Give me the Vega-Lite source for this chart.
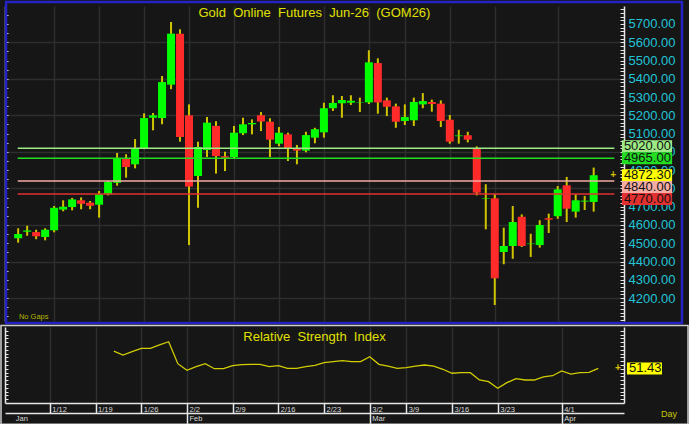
{
  "$schema": "https://vega.github.io/schema/vega-lite/v6.json",
  "background": "#161616",
  "padding": 0,
  "spacing": 6,
  "bounds": "flush",
  "config": {"view": {"stroke": null}, "font": "Liberation Sans", "text": {"font": "Liberation Sans"}, "axis": {"labelFont": "Liberation Sans"}},
  "datasets": {
    "candles": [
      {"i":0,"d":"1/6","o":4527,"h":4582,"l":4503,"c":4551},
      {"i":1,"d":"1/7","o":4563,"h":4596,"l":4541,"c":4570},
      {"i":2,"d":"1/8","o":4561,"h":4574,"l":4522,"c":4538},
      {"i":3,"d":"1/9","o":4534,"h":4582,"l":4516,"c":4574},
      {"i":4,"d":"1/12","o":4571,"h":4704,"l":4560,"c":4694},
      {"i":5,"d":"1/13","o":4684,"h":4735,"l":4675,"c":4700},
      {"i":6,"d":"1/14","o":4698,"h":4748,"l":4680,"c":4740},
      {"i":7,"d":"1/15","o":4735,"h":4751,"l":4686,"c":4716},
      {"i":8,"d":"1/16","o":4722,"h":4731,"l":4686,"c":4705},
      {"i":9,"d":"1/19","o":4711,"h":4786,"l":4640,"c":4768},
      {"i":10,"d":"1/20","o":4768,"h":4841,"l":4762,"c":4835},
      {"i":11,"d":"1/21","o":4831,"h":4994,"l":4815,"c":4965},
      {"i":12,"d":"1/22","o":4965,"h":4987,"l":4859,"c":4917},
      {"i":13,"d":"1/23","o":4932,"h":5070,"l":4910,"c":5020},
      {"i":14,"d":"1/26","o":5020,"h":5211,"l":5015,"c":5185},
      {"i":15,"d":"1/27","o":5187,"h":5213,"l":5118,"c":5200},
      {"i":16,"d":"1/28","o":5185,"h":5415,"l":5151,"c":5382},
      {"i":17,"d":"1/29","o":5368,"h":5711,"l":5343,"c":5647},
      {"i":18,"d":"1/30","o":5647,"h":5671,"l":5056,"c":5081},
      {"i":19,"d":"2/2","o":5200,"h":5260,"l":4490,"c":4810},
      {"i":20,"d":"2/3","o":4868,"h":5056,"l":4694,"c":5027},
      {"i":21,"d":"2/4","o":5010,"h":5191,"l":4972,"c":5160},
      {"i":22,"d":"2/5","o":5142,"h":5168,"l":4881,"c":4977},
      {"i":23,"d":"2/6","o":4976,"h":5001,"l":4895,"c":4968},
      {"i":24,"d":"2/9","o":4972,"h":5142,"l":4965,"c":5105},
      {"i":25,"d":"2/10","o":5102,"h":5187,"l":5092,"c":5151},
      {"i":26,"d":"2/11","o":5151,"h":5178,"l":5096,"c":5158},
      {"i":27,"d":"2/12","o":5200,"h":5218,"l":5114,"c":5167},
      {"i":28,"d":"2/13","o":5165,"h":5184,"l":4972,"c":5067},
      {"i":29,"d":"2/16","o":5045,"h":5136,"l":5031,"c":5105},
      {"i":30,"d":"2/17","o":5096,"h":5105,"l":4950,"c":5020},
      {"i":31,"d":"2/18","o":5016,"h":5038,"l":4932,"c":5007},
      {"i":32,"d":"2/19","o":5007,"h":5110,"l":4998,"c":5092},
      {"i":33,"d":"2/20","o":5078,"h":5132,"l":5047,"c":5124},
      {"i":34,"d":"2/23","o":5107,"h":5269,"l":5078,"c":5239},
      {"i":35,"d":"2/24","o":5239,"h":5310,"l":5224,"c":5268},
      {"i":36,"d":"2/25","o":5266,"h":5306,"l":5187,"c":5284},
      {"i":37,"d":"2/26","o":5269,"h":5310,"l":5257,"c":5280},
      {"i":38,"d":"2/27","o":5271,"h":5297,"l":5218,"c":5273},
      {"i":39,"d":"3/2","o":5271,"h":5556,"l":5262,"c":5490},
      {"i":40,"d":"3/3","o":5486,"h":5512,"l":5209,"c":5271},
      {"i":41,"d":"3/4","o":5282,"h":5297,"l":5196,"c":5247},
      {"i":42,"d":"3/5","o":5249,"h":5264,"l":5132,"c":5165},
      {"i":43,"d":"3/9","o":5169,"h":5260,"l":5147,"c":5191},
      {"i":44,"d":"3/10","o":5173,"h":5297,"l":5142,"c":5273},
      {"i":45,"d":"3/11","o":5260,"h":5322,"l":5239,"c":5278},
      {"i":46,"d":"3/12","o":5273,"h":5286,"l":5220,"c":5262},
      {"i":47,"d":"3/13","o":5264,"h":5282,"l":5136,"c":5169},
      {"i":48,"d":"3/16","o":5176,"h":5202,"l":5045,"c":5056},
      {"i":49,"d":"3/17","o":5086,"h":5121,"l":5045,"c":5090},
      {"i":50,"d":"3/18","o":5091,"h":5110,"l":5052,"c":5067},
      {"i":51,"d":"3/19","o":5017,"h":5030,"l":4762,"c":4777},
      {"i":52,"d":"3/20","o":4743,"h":4823,"l":4576,"c":4746},
      {"i":53,"d":"3/23","o":4746,"h":4768,"l":4162,"c":4308},
      {"i":54,"d":"3/24","o":4452,"h":4585,"l":4385,"c":4485},
      {"i":55,"d":"3/25","o":4485,"h":4704,"l":4415,"c":4616},
      {"i":56,"d":"3/26","o":4645,"h":4658,"l":4480,"c":4485},
      {"i":57,"d":"3/27","o":4495,"h":4552,"l":4425,"c":4498},
      {"i":58,"d":"3/30","o":4490,"h":4626,"l":4476,"c":4600},
      {"i":59,"d":"3/31","o":4637,"h":4662,"l":4556,"c":4629},
      {"i":60,"d":"4/1","o":4648,"h":4813,"l":4634,"c":4795},
      {"i":61,"d":"4/2","o":4817,"h":4863,"l":4616,"c":4689},
      {"i":62,"d":"4/3","o":4673,"h":4768,"l":4640,"c":4735},
      {"i":63,"d":"4/6","o":4728,"h":4759,"l":4682,"c":4733},
      {"i":64,"d":"4/7","o":4726,"h":4914,"l":4673,"c":4872.3}
    ],
    "rsi": [
      {"i":11,"v":69.7},{"i":12,"v":65.5},{"i":13,"v":69.0},{"i":14,"v":72.6},{"i":15,"v":72.6},
      {"i":16,"v":76.1},{"i":17,"v":79.5},{"i":18,"v":56.4},{"i":19,"v":49.4},{"i":20,"v":53.2},
      {"i":21,"v":56.4},{"i":22,"v":51.1},{"i":23,"v":51.1},{"i":24,"v":54.3},{"i":25,"v":55.3},
      {"i":26,"v":55.7},{"i":27,"v":55.7},{"i":28,"v":53.2},{"i":29,"v":54.3},{"i":30,"v":51.5},
      {"i":31,"v":51.5},{"i":32,"v":53.2},{"i":33,"v":54.7},{"i":34,"v":57.4},{"i":35,"v":58.5},
      {"i":36,"v":59.5},{"i":37,"v":58.5},{"i":38,"v":58.5},{"i":39,"v":63.7},{"i":40,"v":55.7},
      {"i":41,"v":53.9},{"i":42,"v":51.5},{"i":43,"v":52.2},{"i":44,"v":53.9},{"i":45,"v":55.0},
      {"i":46,"v":53.9},{"i":47,"v":50.5},{"i":48,"v":46.3},{"i":49,"v":46.9},{"i":50,"v":46.9},
      {"i":51,"v":39.2},{"i":52,"v":37.4},{"i":53,"v":30.5},{"i":54,"v":36.4},{"i":55,"v":40.6},
      {"i":56,"v":39.2},{"i":57,"v":39.2},{"i":58,"v":42.4},{"i":59,"v":43.7},{"i":60,"v":48.7},
      {"i":61,"v":45.5},{"i":62,"v":46.9},{"i":63,"v":47.3},{"i":64,"v":51.43}
    ],
    "levels": [
      {"price":5020,"label":"5020.00"},
      {"price":4965,"label":"4965.00"},
      {"price":4872.3,"label":"4872.30"},
      {"price":4840,"label":"4840.00"},
      {"price":4770,"label":"4770.00"}
    ]
  },
  "vconcat": [
    {
      "width": 619,
      "height": 315,
      "resolve": {"axis": {"y": "independent"}},
      "layer": [
        {
          "data": {"values": [{}]},
          "mark": {"type": "rect", "filled": false, "stroke": "#2323c4", "strokeWidth": 2.5},
          "encoding": {
            "x": {"datum": -1.346, "type": "quantitative"},
            "x2": {"datum": 73.82},
            "y": {"datum": 5820.4, "type": "quantitative", "axis": null},
            "y2": {"datum": 4063.45}
          }
        },
        {
          "data": {"name": "candles"},
          "mark": {"type": "rule", "color": "#cfc400", "strokeWidth": 2},
          "encoding": {
            "x": {"field": "i", "type": "quantitative", "scale": {"domain": [-0.908, 66.816], "nice": false, "zero": false},
              "axis": {"values": [4,9,14,19,24,29,34,39,43,48,53,60], "grid": true, "gridColor": "#2e2e2e", "gridWidth": 1.5, "labels": false, "ticks": false, "domain": false, "title": null}},
            "y": {"field": "l", "type": "quantitative", "scale": {"domain": [4074.4, 5798.5], "nice": false, "zero": false},
              "axis": {"orient": "left", "values": [4100,4150,4200,4250,4300,4350,4400,4450,4500,4550,4600,4650,4700,4750,4800,4850,4900,4950,5000,5050,5100,5150,5200,5250,5300,5350,5400,5450,5500,5550,5600,5650,5700,5750],
                "labels": false, "ticks": true, "tickSize": -3, "tickColor": "#e6e6e6", "domain": true, "domainColor": "#e6e6e6", "domainWidth": 1.5,
                "grid": true, "gridColor": "#2e2e2e", "gridWidth": 1.5, "gridOpacity": {"condition": {"test": "datum.value % 200 === 0", "value": 1}, "value": 0}, "title": null}},
            "y2": {"field": "h"}
          }
        },
        {
          "data": {"name": "candles"},
          "mark": {"type": "bar", "width": 8, "minBandSize": 2},
          "encoding": {
            "x": {"field": "i", "type": "quantitative"},
            "y": {"field": "o", "type": "quantitative", "axis": null},
            "y2": {"field": "c"},
            "color": {"condition": {"test": "datum.c >= datum.o", "value": "#00ff00"}, "value": "#ff2a2a"}
          }
        },
        {
          "data": {"name": "levels"},
          "transform": [{"filter": "datum.price != 4872.3"}],
          "mark": {"type": "rule", "strokeWidth": 1.5},
          "encoding": {
            "x": {"datum": -0.05, "type": "quantitative"},
            "x2": {"datum": 66.3},
            "y": {"field": "price", "type": "quantitative",
              "axis": {"orient": "right", "values": [4080,4100,4120,4140,4160,4180,4200,4220,4240,4260,4280,4300,4320,4340,4360,4380,4400,4420,4440,4460,4480,4500,4520,4540,4560,4580,4600,4620,4640,4660,4680,4700,4720,4740,4760,4780,4800,4820,4840,4860,4880,4900,4920,4940,4960,4980,5000,5020,5040,5060,5080,5100,5120,5140,5160,5180,5200,5220,5240,5260,5280,5300,5320,5340,5360,5380,5400,5420,5440,5460,5480,5500,5520,5540,5560,5580,5600,5620,5640,5660,5680,5700,5720,5740,5760,5780],
                "labelExpr": "datum.value % 100 === 0 && datum.value >= 4200 && datum.value <= 5700 ? format(datum.value, '.2f') : ''",
                "labelOverlap": false, "labelFlush": false, "labelFontSize": 13, "labelColor": "#21c4d6", "labelPadding": 8, "labelAlign": "left", "labelBaseline": "middle",
                "ticks": true, "tickSize": -4, "tickColor": "#e6e6e6", "domain": true, "domainColor": "#e6e6e6", "domainWidth": 1.5, "grid": false, "title": null}},
            "color": {"field": "label", "type": "nominal", "legend": null,
              "scale": {"domain": ["5020.00","4965.00","4872.30","4840.00","4770.00"], "range": ["#9cea84","#22dd22","#ffff00","#f4aca4","#e23030"]}}
          }
        },
        {
          "data": {"name": "levels"},
          "mark": {"type": "rect",
            "yOffset": {"expr": "(datum.price == 5020 ? -2 : datum.price == 4840 ? 6 : datum.price == 4770 ? 5 : 0) - 6"},
            "y2Offset": {"expr": "(datum.price == 5020 ? -2 : datum.price == 4840 ? 6 : datum.price == 4770 ? 5 : 0) + 6"}},
          "encoding": {
            "x": {"datum": 67.14, "type": "quantitative"},
            "x2": {"datum": 72.72},
            "y": {"field": "price", "type": "quantitative", "axis": null},
            "y2": {"field": "price"},
            "color": {"field": "label", "type": "nominal", "legend": null}
          }
        },
        {
          "data": {"name": "levels"},
          "mark": {"type": "text", "align": "left", "baseline": "middle", "fontSize": 13, "color": "#111111",
            "dy": {"expr": "datum.price == 5020 ? -2 : datum.price == 4840 ? 6 : datum.price == 4770 ? 5 : 0"}},
          "encoding": {
            "x": {"datum": 67.36, "type": "quantitative"},
            "y": {"field": "price", "type": "quantitative", "axis": null},
            "text": {"field": "label"}
          }
        },
        {
          "data": {"values": [{"t": "Gold\u00a0 Online\u00a0 Futures\u00a0 Jun-26\u00a0 (GOM26)"}]},
          "mark": {"type": "text", "align": "center", "baseline": "alphabetic", "fontSize": 13, "color": "#e0e000"},
          "encoding": {
            "x": {"datum": 32.95, "type": "quantitative"},
            "y": {"datum": 5741, "type": "quantitative", "axis": null},
            "text": {"field": "t"}
          }
        },
        {
          "data": {"values": [{"t": "No Gaps"}]},
          "mark": {"type": "text", "align": "left", "baseline": "alphabetic", "fontSize": 7.5, "color": "#b4b400"},
          "encoding": {
            "x": {"datum": 0.08, "type": "quantitative"},
            "y": {"datum": 4085.3, "type": "quantitative", "axis": null},
            "text": {"field": "t"}
          }
        },
        {
          "data": {"values": [{"t": "+", "p": 4872.3}]},
          "mark": {"type": "text", "align": "center", "baseline": "middle", "fontSize": 10, "fontWeight": "bold", "color": "#d8c000"},
          "encoding": {
            "x": {"datum": 66.16, "type": "quantitative"},
            "y": {"field": "p", "type": "quantitative", "axis": null},
            "text": {"field": "t"}
          }
        }
      ]
    },
    {
      "width": 619,
      "height": 76,
      "resolve": {"axis": {"x": "independent", "y": "independent"}},
      "layer": [
        {
          "data": {"values": [{}]},
          "mark": {"type": "rect", "filled": false, "stroke": "#cfcfcf", "strokeWidth": 1.5},
          "encoding": {
            "x": {"datum": -1.346, "type": "quantitative", "axis": null},
            "x2": {"datum": 73.82},
            "y": {"datum": 96.58, "type": "quantitative", "axis": null},
            "y2": {"datum": -7.42}
          }
        },
        {
          "data": {"name": "rsi"},
          "mark": {"type": "line", "color": "#d2cc00", "strokeWidth": 1.3},
          "encoding": {
            "x": {"field": "i", "type": "quantitative", "scale": {"domain": [-0.908, 66.816], "nice": false, "zero": false},
              "axis": {"orient": "bottom", "values": [4,9,14,19,24,29,34,39,43,48,53,60],
                "labelExpr": "['1/12','1/19','1/26','2/2','2/9','2/16','2/23','3/2','3/9','3/16','3/23','4/1'][indexof([4,9,14,19,24,29,34,39,43,48,53,60], datum.value)]",
                "grid": true, "gridColor": "#2e2e2e", "gridWidth": 1.5, "ticks": true, "tickSize": 10, "tickColor": "#e6e6e6", "tickWidth": 1.5,
                "domain": true, "domainColor": "#e6e6e6", "domainWidth": 1.5, "labelAlign": "left", "labelBaseline": "alphabetic", "labelPadding": -1.5, "labelOffset": 2,
                "labelFontSize": 7.5, "labelColor": "#dcdcdc", "labelFlush": false, "labelOverlap": false, "title": null}},
            "y": {"field": "v", "type": "quantitative", "scale": {"domain": [15, 95], "nice": false, "zero": false},
              "axis": {"orient": "left", "values": [19,23,27,31,35,39,43,47,51,55,59,63,67,71,75,79,83,87,91], "labels": false, "ticks": true, "tickSize": -3,
                "tickColor": "#e6e6e6", "domain": true, "domainColor": "#e6e6e6", "domainWidth": 1.5, "grid": false, "title": null}}
          }
        },
        {
          "data": {"values": [{"t": "Day"}]},
          "mark": {"type": "text", "align": "left", "baseline": "alphabetic", "fontSize": 9, "color": "#c8c800"},
          "encoding": {
            "x": {"datum": 70.86, "type": "quantitative",
              "axis": {"orient": "bottom", "offset": 10, "values": [0,19,39,60],
                "labelExpr": "datum.value == 0 ? 'Jan' : datum.value == 19 ? 'Feb' : datum.value == 39 ? 'Mar' : 'Apr'",
                "grid": false, "ticks": true, "tickSize": 12, "tickWidth": 1.5, "tickColor": {"condition": {"test": "datum.value == 0", "value": "transparent"}, "value": "#e6e6e6"},
                "domain": true, "domainColor": "#e6e6e6", "domainWidth": 1.5, "labelAlign": "left", "labelBaseline": "alphabetic", "labelPadding": -5, "labelOffset": 2,
                "labelFontSize": 7.5, "labelColor": "#dcdcdc", "labelFlush": false, "labelOverlap": false, "title": null}},
            "y": {"datum": 0.26, "type": "quantitative",
              "axis": {"orient": "right", "values": [19,23,27,31,35,39,43,47,51,55,59,63,67,71,75,79,83,87,91], "labels": false, "ticks": true, "tickSize": -4,
                "tickColor": "#e6e6e6", "domain": true, "domainColor": "#e6e6e6", "domainWidth": 1.5, "grid": false, "title": null}},
            "text": {"field": "t"}
          }
        },
        {
          "data": {"values": [{"t": "Relative\u00a0 Strength\u00a0 Index"}]},
          "mark": {"type": "text", "align": "center", "baseline": "alphabetic", "fontSize": 13, "color": "#e0e000"},
          "encoding": {
            "x": {"datum": 32.95, "type": "quantitative", "axis": null},
            "y": {"datum": 80.26, "type": "quantitative", "axis": null},
            "text": {"field": "t"}
          }
        },
        {
          "data": {"values": [{"v": 51.43, "t": "51.43"}]},
          "mark": {"type": "rect", "color": "#ffff00", "yOffset": -6, "y2Offset": 6},
          "encoding": {
            "x": {"datum": 67.14, "type": "quantitative", "axis": null},
            "x2": {"datum": 70.97},
            "y": {"field": "v", "type": "quantitative", "axis": null},
            "y2": {"field": "v"}
          }
        },
        {
          "data": {"values": [{"v": 51.43, "t": "51.43"}]},
          "mark": {"type": "text", "align": "left", "baseline": "middle", "fontSize": 13, "color": "#111111"},
          "encoding": {
            "x": {"datum": 67.36, "type": "quantitative", "axis": null},
            "y": {"field": "v", "type": "quantitative", "axis": null},
            "text": {"field": "t"}
          }
        },
        {
          "data": {"values": [{"v": 51.43, "t": "+"}]},
          "mark": {"type": "text", "align": "center", "baseline": "middle", "fontSize": 10, "fontWeight": "bold", "color": "#d8c000"},
          "encoding": {
            "x": {"datum": 66.16, "type": "quantitative", "axis": null},
            "y": {"field": "v", "type": "quantitative", "axis": null},
            "text": {"field": "t"}
          }
        }
      ]
    }
  ]
}
